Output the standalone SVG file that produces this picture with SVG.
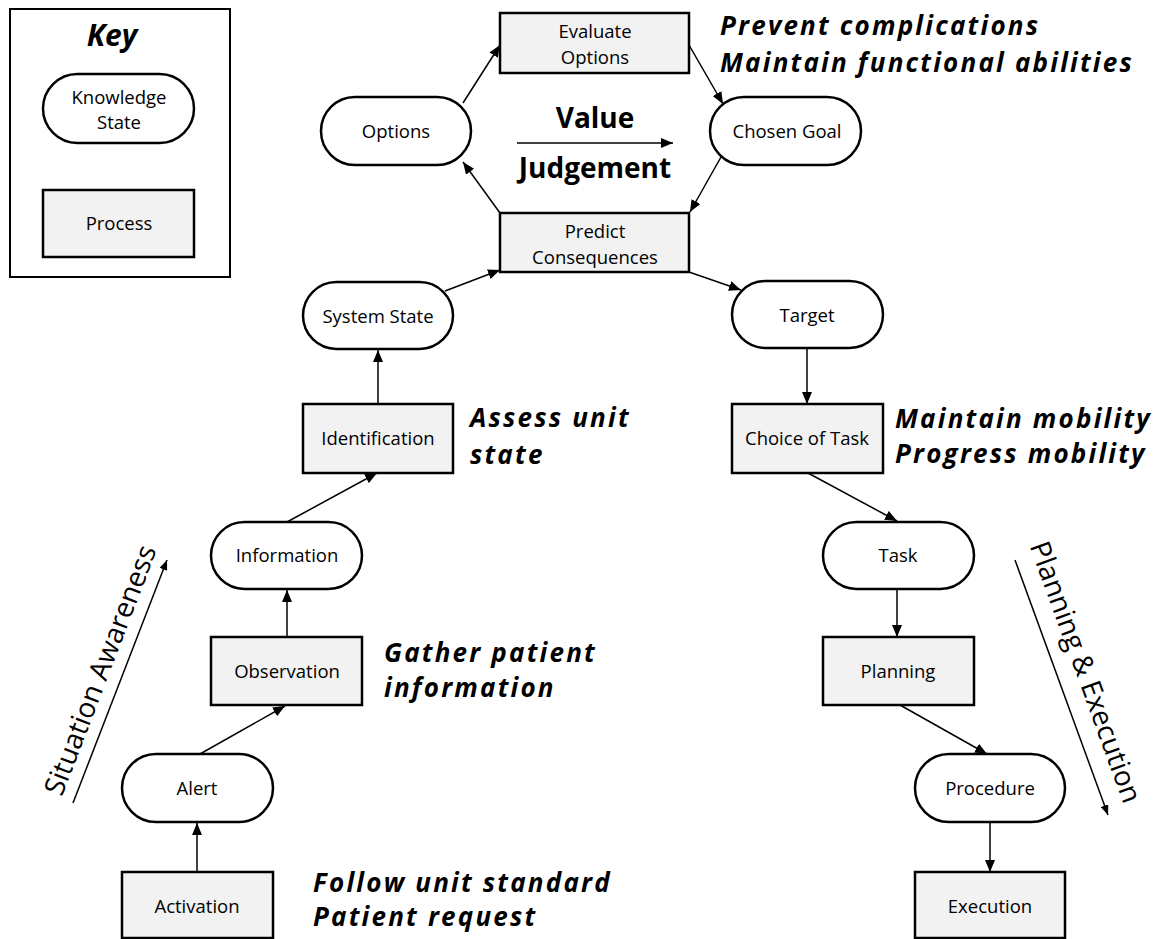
<svg xmlns="http://www.w3.org/2000/svg" width="1158" height="939" viewBox="0 0 1158 939">
<style>
.ks{fill:#fff;stroke:#000;stroke-width:2.5}
.pr{fill:#f2f2f2;stroke:#000;stroke-width:2.5}
.t{font-family:"Open Sans","DejaVu Sans",sans-serif;font-size:18.5px;fill:#000;text-anchor:middle}
.ann{font-family:"Open Sans","DejaVu Sans",sans-serif;font-size:26px;font-weight:700;font-style:italic;letter-spacing:2.2px;fill:#000}
.key{font-family:"Open Sans","DejaVu Sans",sans-serif;font-size:30px;font-weight:700;font-style:italic;fill:#000;text-anchor:middle}
.big{font-family:"Open Sans","DejaVu Sans",sans-serif;font-size:28px;font-weight:700;fill:#000;text-anchor:middle}
.rot{font-family:"Open Sans","DejaVu Sans",sans-serif;font-size:28px;fill:#000;text-anchor:middle}
.c line{stroke:#000;stroke-width:1.5;fill:none}
</style>
<defs>
<marker id="ah" viewBox="0 0 12 10" refX="12" refY="5" markerWidth="12" markerHeight="10" markerUnits="userSpaceOnUse" orient="auto"><path d="M0,0 L12,5 L0,10 z" fill="#000"/></marker>
<marker id="ahs" viewBox="0 0 10 8" refX="10" refY="4" markerWidth="10" markerHeight="8" markerUnits="userSpaceOnUse" orient="auto"><path d="M0,0 L10,4 L0,8 z" fill="#000"/></marker>
</defs>
<rect width="1158" height="939" fill="#fff"/>

<g id="key">
<rect x="10" y="9" width="220" height="268" fill="#fff" stroke="#000" stroke-width="2"/>
<text x="112" y="46" class="key">Key</text>
<rect x="43" y="74" width="151" height="69" rx="34.5" class="ks"/>
<text x="119" y="104" class="t">Knowledge</text>
<text x="119" y="129" class="t">State</text>
<rect x="43" y="190" width="151" height="67" class="pr"/>
<text x="119" y="230" class="t">Process</text>
</g>

<g id="evaluate-options"><rect x="500" y="13" width="189" height="60" class="pr"/><text x="595" y="38" class="t">Evaluate</text><text x="595" y="64" class="t">Options</text></g>
<g id="options"><rect x="321" y="97" width="150" height="68" rx="34" class="ks"/><text x="396" y="138" class="t">Options</text></g>
<g id="chosen-goal"><rect x="710" y="97" width="151" height="68" rx="34" class="ks"/><text x="787" y="138" class="t">Chosen Goal</text></g>
<g id="predict-consequences"><rect x="500" y="213" width="189" height="59" class="pr"/><text x="595" y="238" class="t">Predict</text><text x="595" y="264" class="t">Consequences</text></g>
<g id="value-judgement"><text x="595" y="128" class="big">Value</text><text x="595" y="178" class="big">Judgement</text></g>
<g id="system-state"><rect x="303" y="282" width="150" height="67" rx="33.5" class="ks"/><text x="378" y="323" class="t">System State</text></g>
<g id="identification"><rect x="303" y="404" width="150" height="69" class="pr"/><text x="378" y="445" class="t">Identification</text></g>
<g id="information"><rect x="211" y="522" width="151" height="67" rx="33.5" class="ks"/><text x="287" y="562" class="t">Information</text></g>
<g id="observation"><rect x="211" y="637" width="151" height="68" class="pr"/><text x="287" y="678" class="t">Observation</text></g>
<g id="alert"><rect x="122" y="754" width="151" height="68" rx="34" class="ks"/><text x="197" y="795" class="t">Alert</text></g>
<g id="activation"><rect x="122" y="872" width="151" height="66" class="pr"/><text x="197" y="913" class="t">Activation</text></g>
<g id="target"><rect x="732" y="281" width="151" height="67" rx="33.5" class="ks"/><text x="807" y="322" class="t">Target</text></g>
<g id="choice-of-task"><rect x="732" y="404" width="151" height="69" class="pr"/><text x="807" y="445" class="t">Choice of Task</text></g>
<g id="task"><rect x="823" y="522" width="151" height="67" rx="33.5" class="ks"/><text x="898" y="562" class="t">Task</text></g>
<g id="planning"><rect x="823" y="637" width="151" height="68" class="pr"/><text x="898" y="678" class="t">Planning</text></g>
<g id="procedure"><rect x="915" y="754" width="150" height="68" rx="34" class="ks"/><text x="990" y="795" class="t">Procedure</text></g>
<g id="execution"><rect x="915" y="872" width="150" height="66" class="pr"/><text x="990" y="913" class="t">Execution</text></g>

<g id="annotations">
<text x="720" y="35" class="ann">Prevent complications</text>
<text x="720" y="72" class="ann">Maintain functional abilities</text>
<text x="470" y="427" class="ann">Assess unit</text>
<text x="470" y="464" class="ann">state</text>
<text x="895" y="428" class="ann">Maintain mobility</text>
<text x="895" y="463" class="ann">Progress mobility</text>
<text x="384" y="662" class="ann">Gather patient</text>
<text x="384" y="697" class="ann">information</text>
<text x="313" y="892" class="ann">Follow unit standard</text>
<text x="313" y="926" class="ann">Patient request</text>
<text class="rot" transform="translate(100,670) rotate(-69)" y="10">Situation Awareness</text>
<text class="rot" transform="translate(1086,672) rotate(70)" y="10">Planning &amp; Execution</text>
</g>

<g id="connectors" class="c">
<line x1="197" y1="872" x2="197" y2="823" marker-end="url(#ah)"/>
<line x1="200" y1="754" x2="285" y2="706" marker-end="url(#ah)"/>
<line x1="287" y1="637" x2="287" y2="590" marker-end="url(#ah)"/>
<line x1="287" y1="522" x2="377" y2="473" marker-end="url(#ah)"/>
<line x1="378" y1="404" x2="378" y2="350" marker-end="url(#ah)"/>
<line x1="445" y1="291" x2="500" y2="270" marker-end="url(#ah)"/>
<line x1="500" y1="213" x2="463" y2="162" marker-end="url(#ah)"/>
<line x1="463" y1="103" x2="500" y2="45" marker-end="url(#ah)"/>
<line x1="689" y1="45" x2="723" y2="104" marker-end="url(#ah)"/>
<line x1="721" y1="157" x2="690" y2="212" marker-end="url(#ah)"/>
<line x1="689" y1="272" x2="741" y2="290" marker-end="url(#ah)"/>
<line x1="807" y1="348" x2="807" y2="404" marker-end="url(#ah)"/>
<line x1="808" y1="473" x2="897" y2="521" marker-end="url(#ah)"/>
<line x1="897" y1="589" x2="897" y2="637" marker-end="url(#ah)"/>
<line x1="900" y1="705" x2="987" y2="754" marker-end="url(#ah)"/>
<line x1="990" y1="822" x2="990" y2="872" marker-end="url(#ah)"/>
<line x1="517" y1="143" x2="673" y2="143" marker-end="url(#ah)"/>
<line x1="73" y1="803" x2="167" y2="560" marker-end="url(#ahs)"/>
<line x1="1015" y1="560" x2="1108" y2="815" marker-end="url(#ahs)"/>
</g>
</svg>
